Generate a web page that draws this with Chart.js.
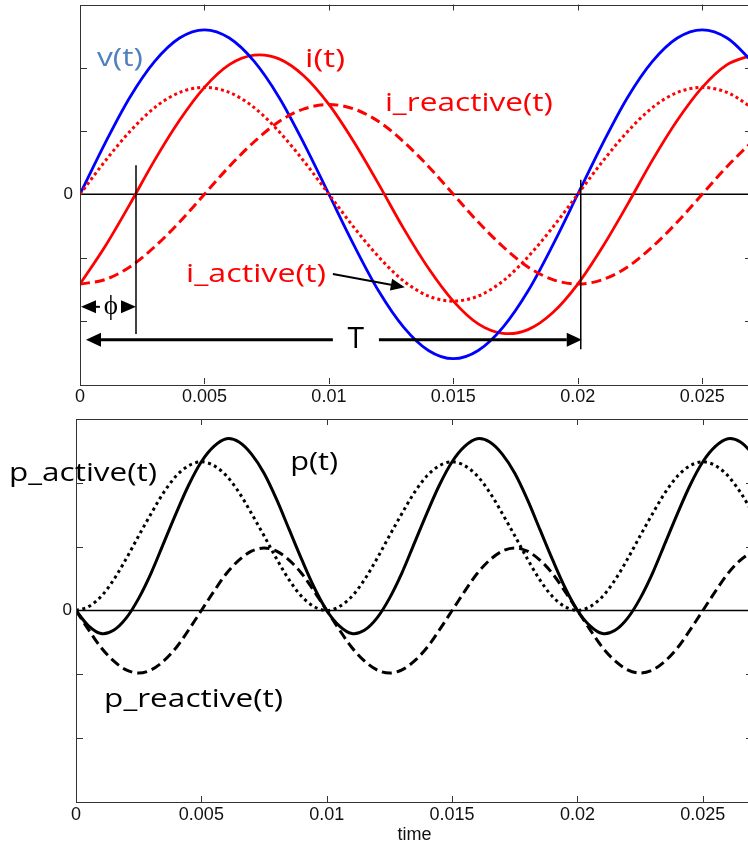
<!DOCTYPE html>
<html>
<head>
<meta charset="utf-8">
<script src="https://cdn.jsdelivr.net/npm/chart.js@4.4.1/dist/chart.umd.min.js"></script>
<style>
  html, body { margin: 0; padding: 0; background: #fff; overflow: hidden; }
  #wrap { position: relative; width: 748px; height: 850px; overflow: hidden; }
  #c1 { position: absolute; left: 0; top: 0; }
  #c2 { position: absolute; left: 0; top: 410px; }
</style>
</head>
<body>
<div id="wrap">
  <canvas id="c1" width="754" height="410"></canvas>
  <canvas id="c2" width="756" height="440"></canvas>
</div>
<script>
// valeurs (top : tension / courants, bas : puissances)
const tTop = [0, 0.001, 0.002, 0.003, 0.004, 0.005, 0.006, 0.007, 0.008, 0.009,
  0.010, 0.011, 0.012, 0.013, 0.014, 0.015, 0.016, 0.017, 0.018, 0.019,
  0.020, 0.021, 0.022, 0.023, 0.024, 0.025, 0.026, 0.027];
const vTop = [0, 0.80, 1.53, 2.10, 2.47, 2.60, 2.47, 2.10, 1.53, 0.80,
  0, -0.80, -1.53, -2.10, -2.47, -2.60, -2.47, -2.10, -1.53, -0.80,
  0, 0.80, 1.53, 2.10, 2.47, 2.60, 2.47, 2.10];
const iTop = [-1.42, -0.83, -0.16, 0.54, 1.17, 1.69, 2.05, 2.20, 2.14, 1.87,
  1.42, 0.83, 0.16, -0.54, -1.17, -1.69, -2.05, -2.20, -2.14, -1.87,
  -1.42, -0.83, -0.16, 0.54, 1.17, 1.69, 2.05, 2.20];
const iActive = [0, 0.52, 0.99, 1.37, 1.61, 1.69, 1.61, 1.37, 0.99, 0.52,
  0, -0.52, -0.99, -1.37, -1.61, -1.69, -1.61, -1.37, -0.99, -0.52,
  0, 0.52, 0.99, 1.37, 1.61, 1.69, 1.61, 1.37];
const iReactive = [-1.42, -1.35, -1.15, -0.83, -0.44, 0, 0.44, 0.83, 1.15, 1.35,
  1.42, 1.35, 1.15, 0.83, 0.44, 0, -0.44, -0.83, -1.15, -1.35,
  -1.42, -1.35, -1.15, -0.83, -0.44, 0, 0.44, 0.83];

const tBot = [0, 0.0005, 0.001, 0.0015, 0.002, 0.0025, 0.003, 0.0035, 0.004, 0.0045,
  0.005, 0.0055, 0.006, 0.0065, 0.007, 0.0075, 0.008, 0.0085, 0.009, 0.0095,
  0.010, 0.0105, 0.011, 0.0115, 0.012, 0.0125, 0.013, 0.0135, 0.014, 0.0145,
  0.015, 0.0155, 0.016, 0.0165, 0.017, 0.0175, 0.018, 0.0185, 0.019, 0.0195,
  0.020, 0.0205, 0.021, 0.0215, 0.022, 0.0225, 0.023, 0.0235, 0.024, 0.0245,
  0.025, 0.0255, 0.026, 0.0265, 0.027];
const pTotal = [0, -0.24, -0.36, -0.31, -0.12, 0.19, 0.59, 1.06, 1.53, 1.97,
  2.33, 2.57, 2.69, 2.64, 2.45, 2.15, 1.74, 1.27, 0.80, 0.36,
  0, -0.24, -0.36, -0.31, -0.12, 0.19, 0.59, 1.06, 1.53, 1.97,
  2.33, 2.57, 2.69, 2.64, 2.45, 2.15, 1.74, 1.27, 0.80, 0.36,
  0, -0.24, -0.36, -0.31, -0.12, 0.19, 0.59, 1.06, 1.53, 1.97,
  2.33, 2.57, 2.69, 2.64, 2.45];
const pActive = [0, 0.06, 0.22, 0.48, 0.81, 1.17, 1.52, 1.85, 2.11, 2.27,
  2.33, 2.27, 2.11, 1.85, 1.52, 1.17, 0.81, 0.48, 0.22, 0.06,
  0, 0.06, 0.22, 0.48, 0.81, 1.17, 1.52, 1.85, 2.11, 2.27,
  2.33, 2.27, 2.11, 1.85, 1.52, 1.17, 0.81, 0.48, 0.22, 0.06,
  0, 0.06, 0.22, 0.48, 0.81, 1.17, 1.52, 1.85, 2.11, 2.27,
  2.33, 2.27, 2.11, 1.85, 1.52];
const pReactive = [0, -0.30, -0.58, -0.79, -0.93, -0.98, -0.93, -0.79, -0.58, -0.30,
  0, 0.30, 0.58, 0.79, 0.93, 0.98, 0.93, 0.79, 0.58, 0.30,
  0, -0.30, -0.58, -0.79, -0.93, -0.98, -0.93, -0.79, -0.58, -0.30,
  0, 0.30, 0.58, 0.79, 0.93, 0.98, 0.93, 0.79, 0.58, 0.30,
  0, -0.30, -0.58, -0.79, -0.93, -0.98, -0.93, -0.79, -0.58, -0.30,
  0, 0.30, 0.58, 0.79, 0.93];

const xTickValues = [0, 0.005, 0.01, 0.015, 0.02, 0.025];
const xTickLabels = ['0', '0.005', '0.01', '0.015', '0.02', '0.025'];
const yTickValues = [-2, -1, 0, 1, 2];
const yTickLabels = ['', '', '0', '', ''];

function pts(ts, ys) {
  return ts.map((t, i) => ({ x: t, y: ys[i] }));
}

const labelFont = '26px "Open Sans"';

function drawText(ctx, it, x, y) {
  ctx.save();
  ctx.font = it.font || labelFont;
  ctx.fillStyle = it.color || '#000';
  ctx.textBaseline = it.baseline || 'alphabetic';
  ctx.textAlign = it.align || 'left';
  const w = ctx.measureText(it.text).width;
  const sx = it.width ? it.width / w : 1;
  ctx.translate(x, y);
  ctx.scale(sx, 1);
  ctx.fillText(it.text, 0, 0);
  ctx.restore();
}

function drawArrow(ctx, x1, y1, x2, y2, lw, len, half) {
  const ang = Math.atan2(y2 - y1, x2 - x1);
  const bx = x2 - Math.cos(ang) * len, by = y2 - Math.sin(ang) * len;
  ctx.save();
  ctx.strokeStyle = '#000';
  ctx.fillStyle = '#000';
  ctx.lineWidth = lw;
  ctx.beginPath();
  ctx.moveTo(x1, y1);
  ctx.lineTo(bx, by);
  ctx.stroke();
  ctx.beginPath();
  ctx.moveTo(x2, y2);
  ctx.lineTo(bx + Math.sin(ang) * half, by - Math.cos(ang) * half);
  ctx.lineTo(bx - Math.sin(ang) * half, by + Math.cos(ang) * half);
  ctx.closePath();
  ctx.fill();
  ctx.restore();
}

// cadre, graduations vers l'interieur, ligne du zero et annotations
const framePlugin = {
  id: 'frame',
  beforeDatasetsDraw(chart) {
    const { ctx, chartArea: a, scales: { x, y } } = chart;
    const y0 = y.getPixelForValue(0);
    ctx.save();
    ctx.strokeStyle = '#000';
    ctx.lineWidth = 1.5;
    ctx.beginPath();
    ctx.moveTo(a.left, y0);
    ctx.lineTo(a.right, y0);
    ctx.stroke();
    ctx.restore();
  },
  afterDraw(chart, args, opts) {
    const { ctx, chartArea: a, scales: { x, y } } = chart;
    ctx.save();
    ctx.strokeStyle = '#333';
    ctx.lineWidth = 1;
    ctx.strokeRect(Math.round(a.left) + 0.5, Math.round(a.top) + 0.5,
      Math.round(a.right - a.left), Math.round(a.bottom - a.top));
    ctx.beginPath();
    xTickValues.forEach(v => {
      if (v === 0) return;
      const px = Math.round(x.getPixelForValue(v)) + 0.5;
      ctx.moveTo(px, a.top); ctx.lineTo(px, a.top + 6);
      ctx.moveTo(px, a.bottom); ctx.lineTo(px, a.bottom - 6);
    });
    yTickValues.forEach(v => {
      if (v === 0) return;
      const py = Math.round(y.getPixelForValue(v)) + 0.5;
      ctx.moveTo(a.left, py); ctx.lineTo(a.left + 7, py);
      ctx.moveTo(a.right, py); ctx.lineTo(a.right - 7, py);
    });
    ctx.stroke();
    ctx.restore();

    (opts.items || []).forEach(it => {
      if (it.type === 'text') {
        drawText(ctx, it, x.getPixelForValue(it.at[0]), y.getPixelForValue(it.at[1]));
      } else if (it.type === 'line') {
        ctx.save();
        ctx.strokeStyle = '#000';
        ctx.lineWidth = it.lw;
        ctx.beginPath();
        ctx.moveTo(x.getPixelForValue(it.from[0]), y.getPixelForValue(it.from[1]));
        ctx.lineTo(x.getPixelForValue(it.to[0]), y.getPixelForValue(it.to[1]));
        ctx.stroke();
        ctx.restore();
      } else if (it.type === 'arrow') {
        drawArrow(ctx,
          x.getPixelForValue(it.from[0]), y.getPixelForValue(it.from[1]),
          x.getPixelForValue(it.to[0]), y.getPixelForValue(it.to[1]),
          it.lw, it.head[0], it.head[1]);
      }
    });
  }
};

function noPad(s) {
  s.paddingTop = 0; s.paddingBottom = 0;
  s.paddingLeft = 0; s.paddingRight = 0;
}

function axes(xMax, yWidth, xHeight, labelPad, title) {
  return {
    x: {
      type: 'linear', min: 0, max: xMax,
      grid: { display: false, drawTicks: false },
      border: { display: false },
      afterBuildTicks: s => { s.ticks = xTickValues.map(v => ({ value: v })); },
      afterFit: s => { s.height = xHeight; noPad(s); },
      ticks: {
        autoSkip: false, maxRotation: 0, padding: 2, color: '#111',
        font: { family: 'Liberation Sans', size: 18 },
        callback: v => xTickLabels[xTickValues.indexOf(v)]
      },
      title: title
    },
    y: {
      type: 'linear', min: -3, max: 3,
      grid: { display: false, drawTicks: false },
      border: { display: false },
      afterBuildTicks: s => { s.ticks = yTickValues.map(v => ({ value: v })); },
      afterFit: s => { s.width = yWidth; noPad(s); },
      ticks: {
        autoSkip: false, padding: labelPad, color: '#111',
        font: { family: 'Liberation Sans', size: 17 },
        callback: v => yTickLabels[yTickValues.indexOf(v)]
      }
    }
  };
}

function ds(data, color, dash, width) {
  return {
    data: data, borderColor: color, borderWidth: width || 3,
    borderDash: dash || [], borderCapStyle: 'butt',
    pointRadius: 0, tension: 0.33, fill: false
  };
}

new Chart(document.getElementById('c1'), {
  type: 'line',
  data: {
    datasets: [
      ds(pts(tTop, iReactive), '#ff0000', [10, 5]),
      ds(pts(tTop, iActive), '#ff0000', [3, 3]),
      ds(pts(tTop, vTop), '#0000ff', [], 2.8),
      ds(pts(tTop, iTop), '#ff0000', [], 2.8)
    ]
  },
  options: {
    responsive: false, animation: false,
    layout: { autoPadding: false, padding: { top: 4.5, right: 2, left: 0, bottom: 0 } },
    plugins: {
      legend: { display: false }, tooltip: { enabled: false },
      frame: {
        items: [
          { type: 'text', text: 'v(t)', at: [0.00068, 2.03], color: '#4f81bd', width: 46 },
          { type: 'text', text: 'i(t)', at: [0.00904, 2.01], color: '#ff0000', width: 40 },
          { type: 'text', text: 'i_reactive(t)', at: [0.01225, 1.31], color: '#ff0000', width: 168 },
          { type: 'text', text: 'i_active(t)', at: [0.00426, -1.39], color: '#ff0000', width: 140 },
          { type: 'arrow', from: [0.01016, -1.26], to: [0.01305, -1.47], lw: 2, head: [14, 6] },
          { type: 'line', from: [0.00225, 0.46], to: [0.00225, -2.21], lw: 1.5 },
          { type: 'line', from: [0.02012, 0.23], to: [0.02012, -2.45], lw: 1.5 },
          { type: 'arrow', from: [0.0008, -1.78], to: [0.00004, -1.78], lw: 2, head: [15, 6.5] },
          { type: 'arrow', from: [0.00165, -1.78], to: [0.00225, -1.78], lw: 2, head: [15, 6.5] },
          { type: 'text', text: 'ϕ', at: [0.00124, -1.78], font: '27px "Liberation Serif"', align: 'center', baseline: 'middle' },
          { type: 'arrow', from: [0.01016, -2.30], to: [0.00024, -2.30], lw: 3, head: [15, 7] },
          { type: 'arrow', from: [0.01201, -2.30], to: [0.02016, -2.30], lw: 3, head: [15, 7] },
          { type: 'text', text: 'T', at: [0.01108, -2.30], font: '30px "Open Sans"', align: 'center', baseline: 'middle' }
        ]
      }
    },
    scales: axes(0.027, 80, 26, 7, { display: false })
  },
  plugins: [framePlugin]
});

new Chart(document.getElementById('c2'), {
  type: 'line',
  data: {
    datasets: [
      ds(pts(tBot, pReactive), '#000', [10, 5]),
      ds(pts(tBot, pActive), '#000', [3, 3.5]),
      ds(pts(tBot, pTotal), '#000', [], 3)
    ]
  },
  options: {
    responsive: false, animation: false,
    layout: { autoPadding: false, padding: { top: 9, right: 3, left: 0, bottom: 0 } },
    plugins: {
      legend: { display: false }, tooltip: { enabled: false },
      frame: {
        items: [
          { type: 'text', text: 'p_active(t)', at: [-0.00267, 2.03], width: 148 },
          { type: 'text', text: 'p(t)', at: [0.00854, 2.20], width: 48 },
          { type: 'text', text: 'p_reactive(t)', at: [0.00112, -1.51], width: 179 }
        ]
      }
    },
    scales: axes(0.027, 76, 48, 4, {
      display: true, text: 'time', color: '#111',
      font: { family: 'Liberation Sans', size: 18 },
      padding: { top: 0, bottom: 4 }
    })
  },
  plugins: [framePlugin]
});
</script>
</body>
</html>
